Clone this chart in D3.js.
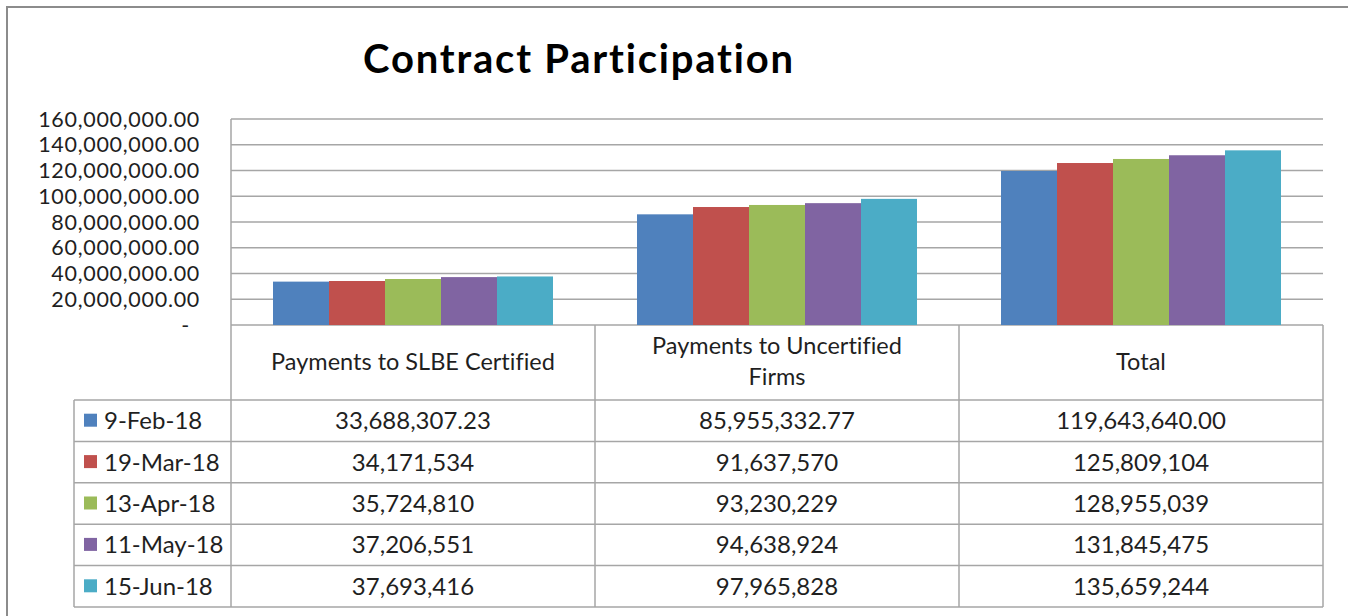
<!DOCTYPE html>
<html>
<head>
<meta charset="utf-8">
<script src="https://cdn.jsdelivr.net/npm/d3@7"></script>
<style>
  body { margin: 0; background: #fff; }
  svg { display: block; font-family: Lato, "Open Sans", sans-serif; font-variant-ligatures: none; }
</style>
</head>
<body>
<div id="chart"></div>
<script>
const categories = ["Payments to SLBE Certified", "Payments to Uncertified Firms", "Total"]
const headerLines = [["Payments to SLBE Certified"], ["Payments to Uncertified", "Firms"], ["Total"]]
const seriesNames = ["9-Feb-18", "19-Mar-18", "13-Apr-18", "11-May-18", "15-Jun-18"]
const colors = ["#4f81bd", "#c0504d", "#9bbb59", "#8064a2", "#4bacc6"]
const values = [
  [33688307.23, 85955332.77, 119643640.0],
  [34171534, 91637570, 125809104],
  [35724810, 93230229, 128955039],
  [37206551, 94638924, 131845475],
  [37693416, 97965828, 135659244],
]
const decimals = [2, 0, 0, 0, 0]
const yTicks = [0, 20e6, 40e6, 60e6, 80e6, 100e6, 120e6, 140e6, 160e6]

const W = 1348
const H = 616
const plot = { left: 231, right: 1323, top: 119, bottom: 325 }
const table = { left: 74, headerBottom: 400, bottom: 607 }
const gridColor = "#a6a6a6"
const textColor = "#1f1f1f"

const svg = d3.select("#chart").append("svg").attr("width", W).attr("height", H)

// outer chart frame
svg.append("path")
  .attr("d", `M7,${H + 5}V7H${W + 5}`)
  .attr("fill", "none")
  .attr("stroke", "#8c8c8c")
  .attr("stroke-width", 2)

svg.append("text")
  .attr("x", 579)
  .attr("y", 73)
  .attr("text-anchor", "middle")
  .attr("font-size", 40)
  .attr("font-weight", "bold")
  .attr("letter-spacing", 1.8)
  .attr("fill", "#000")
  .text("Contract Participation")

const x = d3.scaleBand().domain(categories).range([plot.left, plot.right])
const xs = d3.scaleBand().domain(seriesNames).range([0, x.bandwidth()]).paddingOuter(0.75)
const y = d3.scaleLinear().domain([0, 160e6]).range([plot.bottom, plot.top])

// gridlines
svg.append("g")
  .selectAll("line")
  .data(yTicks)
  .join("line")
  .attr("x1", plot.left)
  .attr("x2", plot.right)
  .attr("y1", d => y(d))
  .attr("y2", d => y(d))
  .attr("stroke", gridColor)
  .attr("stroke-width", 1.5)

// y axis labels
const fmtTick = d3.format(",.2f")
svg.append("g")
  .selectAll("text")
  .data(yTicks)
  .join("text")
  .attr("x", d => (d === 0 ? 190 : 200))
  .attr("y", d => y(d))
  .attr("dy", "0.35em")
  .attr("text-anchor", "end")
  .attr("font-size", 21.5)
  .attr("letter-spacing", 0.7)
  .attr("fill", textColor)
  .text(d => (d === 0 ? "-" : fmtTick(d)))

// bars
const series = svg.append("g")
  .selectAll("g")
  .data(values)
  .join("g")
  .attr("fill", (d, i) => colors[i])
series.each(function (row, i) {
  d3.select(this)
    .selectAll("rect")
    .data(row)
    .join("rect")
    .attr("x", (v, j) => x(categories[j]) + xs(seriesNames[i]))
    .attr("width", xs.bandwidth())
    .attr("y", v => y(v))
    .attr("height", v => y(0) - y(v))
})

// data table
const rowY = d3.scaleBand().domain(seriesNames).range([table.headerBottom, table.bottom])
const lines = svg.append("g").attr("stroke", gridColor).attr("stroke-width", 1.5)
lines.append("line")
  .attr("x1", plot.left).attr("x2", plot.left)
  .attr("y1", plot.top).attr("y2", table.bottom)
x.domain().slice(1).concat(["end"]).forEach((c, i) => {
  const xx = i < 2 ? x(c) : plot.right
  lines.append("line")
    .attr("x1", xx).attr("x2", xx)
    .attr("y1", plot.bottom).attr("y2", table.bottom)
})
lines.append("line")
  .attr("x1", table.left).attr("x2", table.left)
  .attr("y1", table.headerBottom).attr("y2", table.bottom)
seriesNames.concat(["end"]).forEach((s, i) => {
  const yy = i < seriesNames.length ? rowY(s) : table.bottom
  lines.append("line")
    .attr("x1", table.left).attr("x2", plot.right)
    .attr("y1", yy).attr("y2", yy)
})

// header cells
const headerMid = (plot.bottom + table.headerBottom) / 2
svg.append("g")
  .selectAll("text")
  .data(headerLines)
  .join("text")
  .attr("text-anchor", "middle")
  .attr("font-size", 23.5)
  .attr("fill", textColor)
  .each(function (ls, j) {
    d3.select(this)
      .selectAll("tspan")
      .data(ls)
      .join("tspan")
      .attr("x", x(categories[j]) + x.bandwidth() / 2)
      .attr("y", (t, k) => headerMid - 1 + (k - (ls.length - 1) / 2) * 31)
      .attr("dy", "0.35em")
      .text(t => t)
  })

// legend keys + value cells
const rows = svg.append("g")
  .selectAll("g")
  .data(seriesNames)
  .join("g")
  .attr("transform", s => `translate(0,${rowY(s) + rowY.bandwidth() / 2})`)
rows.append("rect")
  .attr("x", 84)
  .attr("y", -7)
  .attr("width", 13)
  .attr("height", 13)
  .attr("fill", (s, i) => colors[i])
rows.append("text")
  .attr("x", 104)
  .attr("dy", "0.35em")
  .attr("font-size", 24)
  .attr("fill", textColor)
  .text(s => s)
rows.each(function (s, i) {
  const fmt = d3.format(`,.${decimals[i]}f`)
  d3.select(this)
    .selectAll("text.val")
    .data(values[i])
    .join("text")
    .attr("class", "val")
    .attr("x", (v, j) => x(categories[j]) + x.bandwidth() / 2)
    .attr("dy", "0.35em")
    .attr("text-anchor", "middle")
    .attr("font-size", 24)
    .attr("fill", textColor)
    .text(v => fmt(v))
})
</script>
</body>
</html>
